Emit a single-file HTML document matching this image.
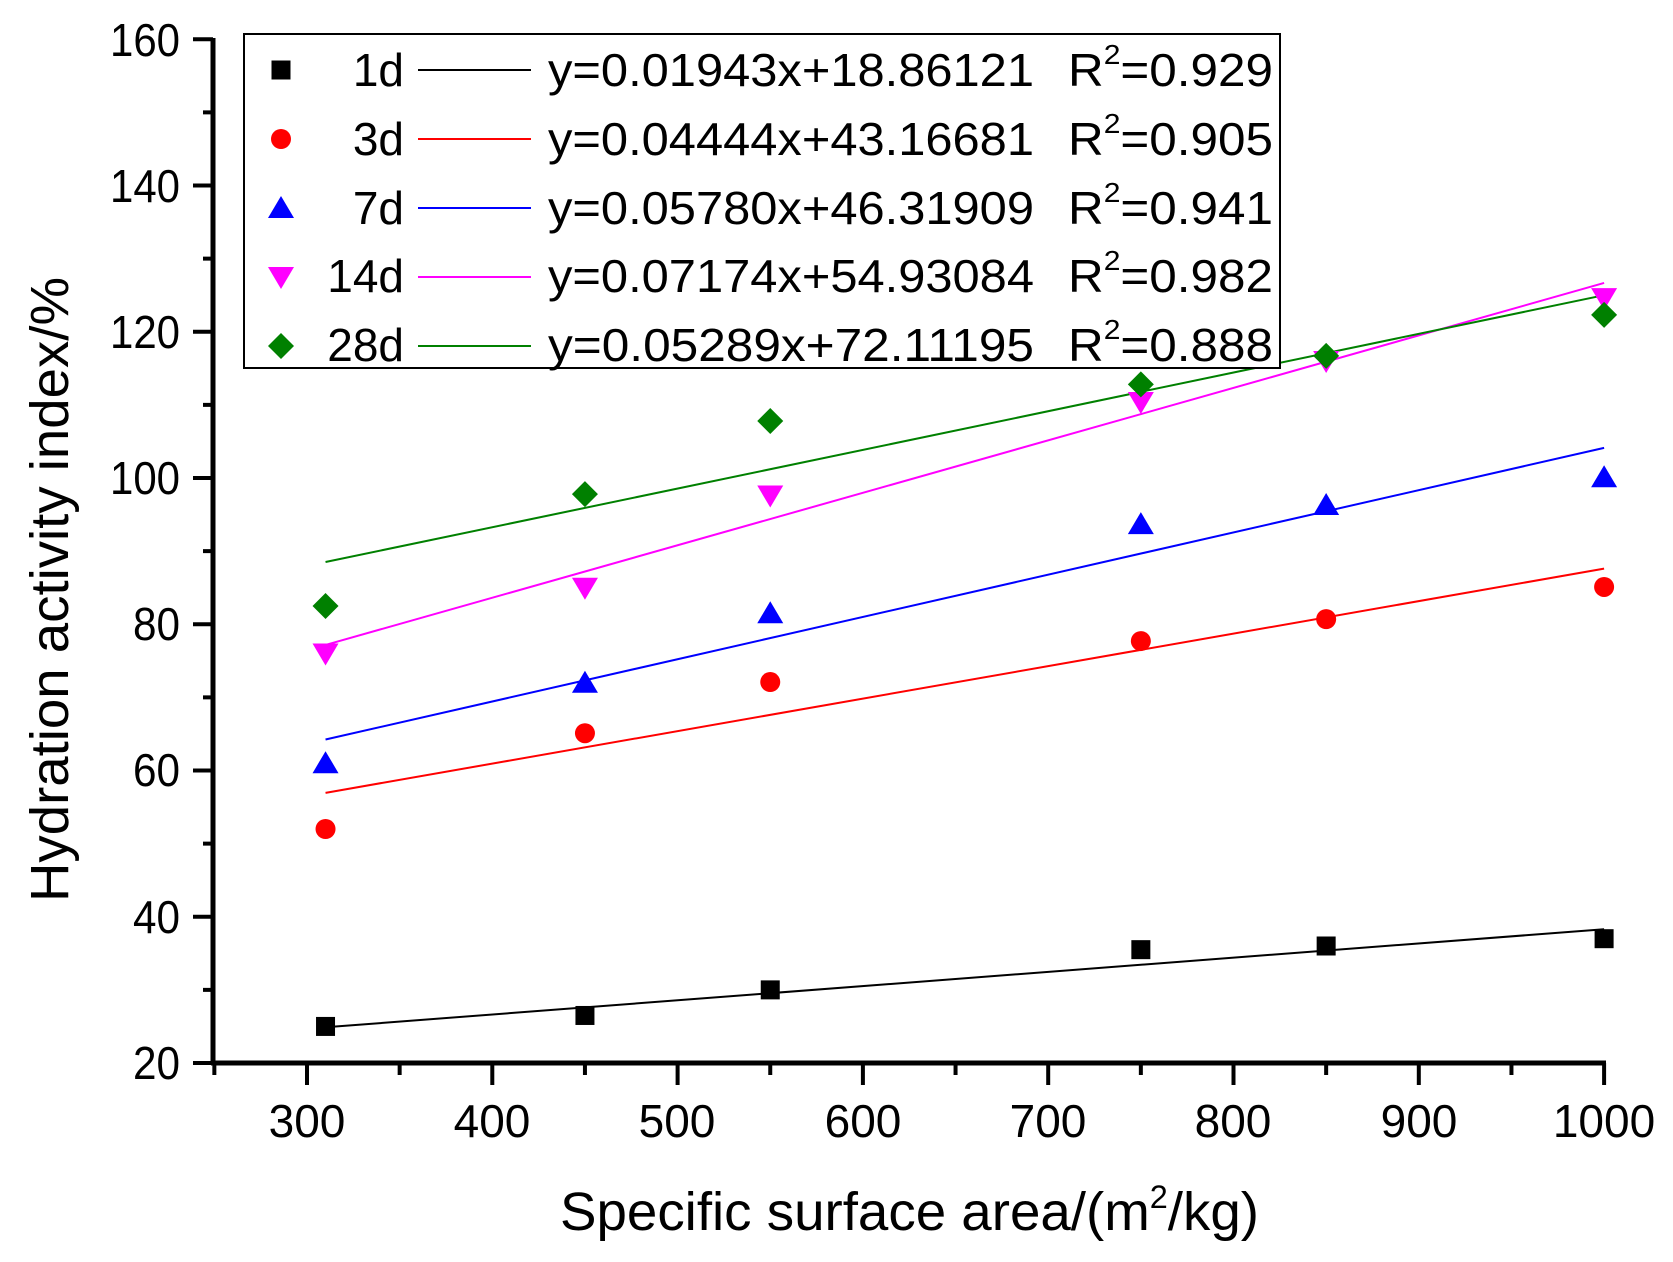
<!DOCTYPE html>
<html><head><meta charset="utf-8"><style>html,body{margin:0;padding:0;background:#fff}svg{display:block}</style></head>
<body>
<svg id="s" width="1673" height="1262" viewBox="0 0 1673 1262" xmlns="http://www.w3.org/2000/svg" font-family="Liberation Sans, Arial, sans-serif">
<rect width="1673" height="1262" fill="#fff"/>
<g id="ticks" stroke="#000" stroke-width="4"></g>
<line x1="213" y1="38" x2="213" y2="1065" stroke="#000" stroke-width="5"/>
<line x1="211" y1="1063" x2="1606" y2="1063" stroke="#000" stroke-width="5"/>
<g font-size="46" text-anchor="end" fill="#000">
<text x="180" y="56" textLength="70" lengthAdjust="spacingAndGlyphs">160</text>
<text x="180" y="202" textLength="70" lengthAdjust="spacingAndGlyphs">140</text>
<text x="180" y="348" textLength="70" lengthAdjust="spacingAndGlyphs">120</text>
<text x="180" y="494" textLength="70" lengthAdjust="spacingAndGlyphs">100</text>
<text x="180" y="640" textLength="47" lengthAdjust="spacingAndGlyphs">80</text>
<text x="180" y="786" textLength="47" lengthAdjust="spacingAndGlyphs">60</text>
<text x="180" y="933" textLength="47" lengthAdjust="spacingAndGlyphs">40</text>
<text x="180" y="1079" textLength="47" lengthAdjust="spacingAndGlyphs">20</text>
</g>
<g font-size="46" text-anchor="middle" fill="#000">
<text x="307" y="1137">300</text>
<text x="492" y="1137">400</text>
<text x="677" y="1137">500</text>
<text x="863" y="1137">600</text>
<text x="1048" y="1137">700</text>
<text x="1233" y="1137">800</text>
<text x="1419" y="1137">900</text>
<text x="1604" y="1137">1000</text>
</g>
<text x="560" y="1230" font-size="54" textLength="699" lengthAdjust="spacingAndGlyphs">Specific surface area/(m<tspan font-size="32" dy="-22">2</tspan><tspan dy="22">/kg)</tspan></text>
<text transform="translate(68,902) rotate(-90)" font-size="54" textLength="625" lengthAdjust="spacingAndGlyphs">Hydration activity index/%</text>
<g id="fits" stroke-width="2" fill="none"></g>
<g id="pts"></g>
<rect x="244" y="34" width="1036" height="334" fill="#fff" stroke="#000" stroke-width="2"/>
<g id="leg"></g>
<g font-size="46" fill="#000">
<text x="404" y="86" text-anchor="end">1d</text>
<text x="404" y="155" text-anchor="end">3d</text>
<text x="404" y="224" text-anchor="end">7d</text>
<text x="404" y="292" text-anchor="end">14d</text>
<text x="404" y="361" text-anchor="end">28d</text>
<text x="548" y="86" textLength="486" lengthAdjust="spacingAndGlyphs">y=0.01943x+18.86121</text>
<text x="548" y="155" textLength="486" lengthAdjust="spacingAndGlyphs">y=0.04444x+43.16681</text>
<text x="548" y="224" textLength="486" lengthAdjust="spacingAndGlyphs">y=0.05780x+46.31909</text>
<text x="548" y="292" textLength="486" lengthAdjust="spacingAndGlyphs">y=0.07174x+54.93084</text>
<text x="548" y="361" textLength="486" lengthAdjust="spacingAndGlyphs">y=0.05289x+72.11195</text>
<text x="1068" y="86" textLength="205" lengthAdjust="spacingAndGlyphs">R<tspan font-size="28" dy="-22">2</tspan><tspan dy="22">=0.929</tspan></text>
<text x="1068" y="155" textLength="205" lengthAdjust="spacingAndGlyphs">R<tspan font-size="28" dy="-22">2</tspan><tspan dy="22">=0.905</tspan></text>
<text x="1068" y="224" textLength="205" lengthAdjust="spacingAndGlyphs">R<tspan font-size="28" dy="-22">2</tspan><tspan dy="22">=0.941</tspan></text>
<text x="1068" y="292" textLength="205" lengthAdjust="spacingAndGlyphs">R<tspan font-size="28" dy="-22">2</tspan><tspan dy="22">=0.982</tspan></text>
<text x="1068" y="361" textLength="205" lengthAdjust="spacingAndGlyphs">R<tspan font-size="28" dy="-22">2</tspan><tspan dy="22">=0.888</tspan></text>
</g>
</svg>
<script>
var NS="http://www.w3.org/2000/svg";
function X(v){return 307+(v-300)*1.853;}
function Y(v){return 1063-(v-20)*7.3125;}
function el(p,t,a){var e=document.createElementNS(NS,t);for(var k in a)e.setAttribute(k,a[k]);document.getElementById(p).appendChild(e);return e;}
for(var v=20;v<=160;v+=10){var y=Y(v);el("ticks","line",{x1:(v%20==0?193:203),y1:y,x2:213,y2:y});}
for(var v=250;v<=1000;v+=50){var x=X(v);el("ticks","line",{x1:x,y1:1063,x2:x,y2:(v%100==0?1085:1075)});}
var xs=[310,450,550,750,850,1000];
var S=[
 {c:"#000",m:"sq",d:[25,26.5,30,35.5,36,37],a:0.01943,b:18.86121},
 {c:"#ff0000",m:"ci",d:[52,65.1,72.1,77.7,80.7,85.1],a:0.04444,b:43.16681},
 {c:"#0000ff",m:"tu",d:[61,72,81.5,93.7,96.3,100.1],a:0.05780,b:46.31909},
 {c:"#ff00ff",m:"td",d:[76,85,97.6,110.4,116,124.6],a:0.07174,b:54.93084},
 {c:"#008000",m:"di",d:[82.5,97.8,107.8,112.8,116.7,122.3],a:0.05289,b:72.11195}
];
function mk(g,m,x,y,c){
 if(m=="sq")el(g,"rect",{x:x-9.5,y:y-9.5,width:19,height:19,fill:c});
 else if(m=="ci")el(g,"circle",{cx:x,cy:y,r:10,fill:c});
 else if(m=="tu")el(g,"polygon",{points:(x-13)+","+(y+10)+" "+(x+13)+","+(y+10)+" "+x+","+(y-12),fill:c});
 else if(m=="td")el(g,"polygon",{points:(x-13)+","+(y-10)+" "+(x+13)+","+(y-10)+" "+x+","+(y+12),fill:c});
 else el(g,"polygon",{points:x+","+(y-13)+" "+(x+13)+","+y+" "+x+","+(y+13)+" "+(x-13)+","+y,fill:c});
}
S.forEach(function(s,i){
 el("fits","line",{x1:X(310),y1:Y(s.a*310+s.b),x2:X(1000),y2:Y(s.a*1000+s.b),stroke:s.c});
 s.d.forEach(function(v,j){mk("pts",s.m,X(xs[j]),Y(v),s.c);});
 var ly=70+i*69;
 mk("leg",s.m,281,ly,s.c);
 el("leg","line",{x1:418,y1:ly,x2:531,y2:ly,stroke:s.c,"stroke-width":2});
});
</script>
</body></html>
